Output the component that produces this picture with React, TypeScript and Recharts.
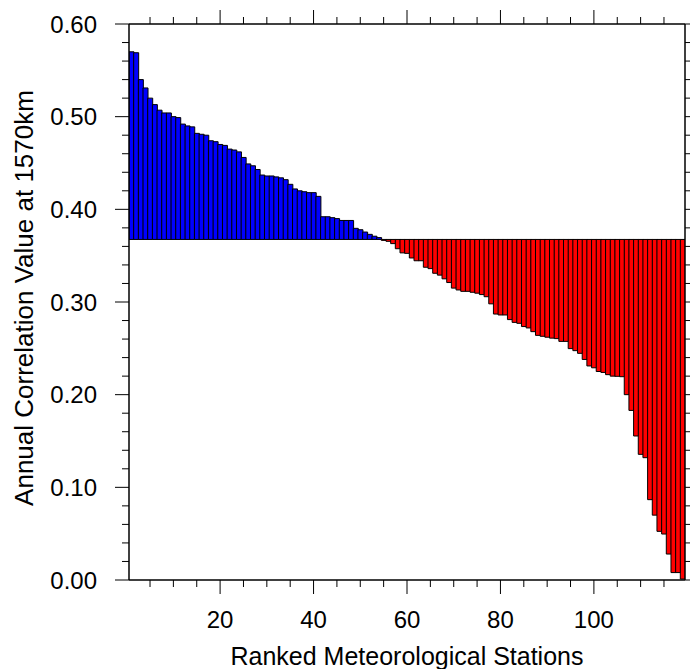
import { BarChart, Bar, XAxis, YAxis, Cell } from "recharts";

// reference level the bars hang from
const REF_LINE = 0.3675;

// annual correlation values, stations ranked 1..119
const CORRELATION = [
  0.570, 0.569, 0.540, 0.531, 0.520, 0.513, 0.507, 0.504, 0.504, 0.500,
  0.499, 0.492, 0.490, 0.489, 0.482, 0.481, 0.480, 0.474, 0.473, 0.470,
  0.469, 0.465, 0.464, 0.462, 0.456, 0.449, 0.447, 0.443, 0.437, 0.436,
  0.436, 0.435, 0.434, 0.432, 0.427, 0.422, 0.420, 0.419, 0.418, 0.418,
  0.414, 0.392, 0.392, 0.391, 0.390, 0.388, 0.388, 0.388, 0.3795, 0.378,
  0.3755, 0.373, 0.371, 0.3695, 0.3665, 0.3655, 0.363, 0.3575, 0.353, 0.3525,
  0.3475, 0.3445, 0.3445, 0.3375, 0.336, 0.331, 0.329, 0.325, 0.321, 0.315,
  0.313, 0.3115, 0.3115, 0.3105, 0.3095, 0.308, 0.3057, 0.298, 0.287, 0.286,
  0.286, 0.281, 0.278, 0.277, 0.2735, 0.272, 0.268, 0.264, 0.263, 0.262,
  0.261, 0.2605, 0.2575, 0.2575, 0.2497, 0.2475, 0.2446, 0.238, 0.231, 0.229,
  0.225, 0.224, 0.2216, 0.220, 0.2198, 0.2194, 0.200, 0.183, 0.1554, 0.1356,
  0.132, 0.0867, 0.070, 0.0525, 0.0496, 0.028, 0.008, 0.008, 0.001,
];

const X_TICKS = [
  5, 10, 15, 20, 25, 30, 35, 40, 45, 50, 55, 60, 65, 70, 75, 80, 85, 90, 95,
  100, 105, 110, 115,
];
const X_LABELS = [20, 40, 60, 80, 100];

const Y_TICKS = [
  0, 0.02, 0.04, 0.06, 0.08, 0.1, 0.12, 0.14, 0.16, 0.18, 0.2, 0.22, 0.24,
  0.26, 0.28, 0.3, 0.32, 0.34, 0.36, 0.38, 0.4, 0.42, 0.44, 0.46, 0.48, 0.5,
  0.52, 0.54, 0.56, 0.58, 0.6,
];
const Y_LABELS = [0, 0.1, 0.2, 0.3, 0.4, 0.5, 0.6];

const FONT = "'Liberation Sans', Arial, Helvetica, sans-serif";
const MAJOR = 14;
const MINOR = 7;

const data = CORRELATION.map((v, i) => ({
  rank: i + 1,
  value: v,
  range: v >= REF_LINE ? [REF_LINE, v] : [v, REF_LINE],
}));

const isYLabel = (v: number) => Y_LABELS.some((l) => Math.abs(l - v) < 1e-6);

const xTick = (side: "top" | "bottom") => (props: any) => {
  const { x, y, payload } = props;
  const v = payload.value;
  const major = X_LABELS.includes(v);
  const dir = side === "bottom" ? 1 : -1;
  return (
    <g>
      <line
        x1={x}
        x2={x}
        y1={y}
        y2={y + dir * (major ? MAJOR : MINOR)}
        stroke="#000"
        strokeWidth={1}
      />
      {side === "bottom" && major && (
        <text x={x} y={y + 48} textAnchor="middle" fontSize={24} fontFamily={FONT} fill="#000">
          {v}
        </text>
      )}
    </g>
  );
};

const yTick = (side: "left" | "right") => (props: any) => {
  const { x, y, payload } = props;
  const v = payload.value;
  const major = isYLabel(v);
  const dir = side === "left" ? -1 : 1;
  return (
    <g>
      <line
        x1={x}
        x2={x + dir * (major ? MAJOR : MINOR)}
        y1={y}
        y2={y}
        stroke="#000"
        strokeWidth={1}
      />
      {side === "left" && major && (
        <text x={x - 32} y={y + 8.5} textAnchor="end" fontSize={24} fontFamily={FONT} fill="#000">
          {v.toFixed(2)}
        </text>
      )}
    </g>
  );
};

const axisLine = { stroke: "#000", strokeWidth: 1.5 };

export default function App() {
  return (
    <div style={{ position: "absolute", left: 0, top: 0, width: 690, height: 669, background: "#fff" }}>
      <BarChart
        width={690}
        height={669}
        data={data}
        margin={{ top: 23, right: 4, bottom: 0, left: 0 }}
        barCategoryGap={0}
        barGap={0}
      >
        <XAxis
          dataKey="rank"
          type="number"
          domain={[0.5, 119.5]}
          ticks={X_TICKS}
          interval={0}
          height={89}
          tickSize={0}
          tickMargin={0}
          tickLine={false}
          axisLine={axisLine}
          tick={xTick("bottom")}
          allowDataOverflow
          label={{
            content: () => (
              <text x={407} y={665} textAnchor="middle" fontSize={25} fontFamily={FONT} fill="#000">
                Ranked Meteorological Stations
              </text>
            ),
          }}
        />
        <XAxis
          xAxisId="top"
          orientation="top"
          dataKey="rank"
          type="number"
          domain={[0.5, 119.5]}
          ticks={X_TICKS}
          interval={0}
          height={1}
          tickSize={0}
          tickMargin={0}
          tickLine={false}
          axisLine={axisLine}
          tick={xTick("top")}
          allowDataOverflow
        />
        <YAxis
          type="number"
          domain={[0, 0.6]}
          ticks={Y_TICKS}
          interval={0}
          width={129}
          tickSize={0}
          tickMargin={0}
          tickLine={false}
          axisLine={axisLine}
          tick={yTick("left")}
          allowDataOverflow
          label={{
            content: () => (
              <text
                x={0}
                y={0}
                transform="translate(33 298) rotate(-90)"
                textAnchor="middle"
                fontSize={26}
                fontFamily={FONT}
                fill="#000"
              >
                Annual Correlation Value at 1570km
              </text>
            ),
          }}
        />
        <YAxis
          yAxisId="right"
          orientation="right"
          type="number"
          domain={[0, 0.6]}
          ticks={Y_TICKS}
          interval={0}
          width={1}
          tickSize={0}
          tickMargin={0}
          tickLine={false}
          axisLine={axisLine}
          tick={yTick("right")}
          allowDataOverflow
        />
        <Bar dataKey="range" stroke="#000" strokeWidth={1} isAnimationActive={false}>
          {data.map((d, i) => (
            <Cell key={`bar-${i}`} fill={d.value >= REF_LINE ? "#0000ff" : "#ff0000"} />
          ))}
        </Bar>
        {/* invisible copy so the top and right axes get drawn */}
        <Bar
          dataKey="range"
          xAxisId="top"
          yAxisId="right"
          fill="none"
          stroke="none"
          isAnimationActive={false}
        />
      </BarChart>
    </div>
  );
}
